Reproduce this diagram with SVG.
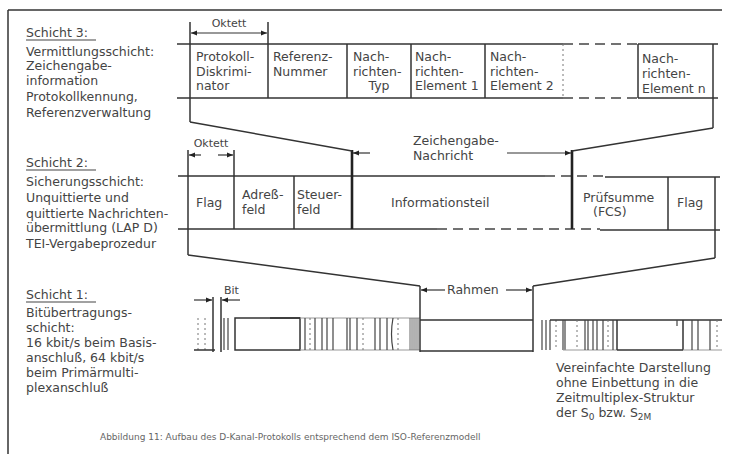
<svg xmlns="http://www.w3.org/2000/svg" width="730" height="454" viewBox="0 0 730 454">
<defs>
<marker id="ah" viewBox="0 0 10 10" refX="10" refY="5" markerWidth="6" markerHeight="5" orient="auto-start-reverse"><path d="M0,1 L10,5 L0,9 z" fill="#222"/></marker>
</defs>
<style>
text{font-family:"DejaVu Sans","Liberation Sans",sans-serif;font-size:12.5px;fill:#444}
.sm{font-size:11px}
.cap{font-size:9px;fill:#666}
.ln{stroke:#333;stroke-width:1.5;fill:none}
.thk{stroke:#222;stroke-width:2.6;fill:none}
.th{stroke:#444;stroke-width:1.2;fill:none}
.lt{stroke:#999;stroke-width:1;fill:none}
.dot{stroke:#777;stroke-width:1;stroke-dasharray:2 3;fill:none}
.dash{stroke:#444;stroke-width:1.5;stroke-dasharray:10 6;fill:none}
.dim{stroke:#333;stroke-width:1.2;fill:none}
.hat{stroke:#666;stroke-width:1;fill:none}
</style>
<rect width="730" height="454" fill="#fff"/>
<g id="frame">
<line class="ln" x1="8" y1="10" x2="722" y2="10"/>
<line class="ln" x1="8" y1="10" x2="8" y2="454"/>
</g>

<g id="layer3-label">
<text x="26" y="37">Schicht 3:</text>
<line class="th" x1="26" y1="40" x2="96" y2="40"/>
<text x="26" y="56">Vermittlungsschicht:</text>
<text x="26" y="70">Zeichengabe-</text>
<text x="26" y="85">information</text>
<text x="26" y="101">Protokollkennung,</text>
<text x="26" y="117">Referenzverwaltung</text>
</g>

<g id="layer3-frame">
<line class="ln" x1="177" y1="44" x2="563" y2="44"/>
<line class="dash" x1="563" y1="44" x2="638" y2="44"/>
<line class="ln" x1="638" y1="44" x2="718" y2="44"/>
<line class="ln" x1="177" y1="98" x2="563" y2="98"/>
<line class="dash" x1="563" y1="98" x2="638" y2="98"/>
<line class="ln" x1="638" y1="98" x2="718" y2="98"/>
<line class="ln" x1="190" y1="22" x2="190" y2="122"/>
<line class="ln" x1="268" y1="22" x2="268" y2="98"/>
<line class="ln" x1="347" y1="44" x2="347" y2="98"/>
<line class="ln" x1="411" y1="44" x2="411" y2="98"/>
<line class="ln" x1="485" y1="44" x2="485" y2="98"/>
<line class="dot" x1="563" y1="44" x2="563" y2="98"/>
<line class="ln" x1="638" y1="44" x2="638" y2="98"/>
<line class="ln" x1="713" y1="44" x2="713" y2="128"/>
</g>
<g id="f-protokoll"><text x="196" y="61">Protokoll-</text><text x="196" y="76">Diskrimi-</text><text x="196" y="90">nator</text></g>
<g id="f-referenz"><text x="273" y="61">Referenz-</text><text x="273" y="76">Nummer</text></g>
<g id="f-typ"><text x="353" y="61">Nach-</text><text x="353" y="76">richten-</text><text x="379" y="90" text-anchor="middle">Typ</text></g>
<g id="f-el1"><text x="415" y="61">Nach-</text><text x="415" y="76">richten-</text><text x="415" y="90">Element 1</text></g>
<g id="f-el2"><text x="490" y="61">Nach-</text><text x="490" y="76">richten-</text><text x="490" y="90">Element 2</text></g>
<g id="f-eln"><text x="642" y="63">Nach-</text><text x="642" y="78">richten-</text><text x="642" y="93">Element n</text></g>

<g id="layer2-label">
<text x="26" y="167">Schicht 2:</text>
<line class="th" x1="26" y1="170" x2="96" y2="170"/>
<text x="26" y="186">Sicherungsschicht:</text>
<text x="26" y="202">Unquittierte und</text>
<text x="26" y="218">quittierte Nachrichten-</text>
<text x="26" y="232">übermittlung (LAP D)</text>
<text x="26" y="248">TEI-Vergabeprozedur</text>
</g>

<g id="layer2-frame">
<line class="ln" x1="178" y1="176" x2="545" y2="176"/>
<line class="dash" x1="545" y1="176" x2="605" y2="176"/>
<line class="ln" x1="605" y1="177" x2="720" y2="177"/>
<line class="ln" x1="178" y1="229" x2="437" y2="229"/>
<line class="dash" x1="437" y1="229" x2="600" y2="229"/>
<line class="ln" x1="600" y1="230" x2="720" y2="230"/>
<line class="ln" x1="188" y1="150" x2="188" y2="255"/>
<line class="ln" x1="234" y1="150" x2="234" y2="229"/>
<line class="ln" x1="294" y1="176" x2="294" y2="229"/>
<line class="thk" x1="352" y1="150" x2="352" y2="229"/>
<line class="thk" x1="572" y1="150" x2="572" y2="229"/>
<line class="ln" x1="668" y1="177" x2="668" y2="230"/>
<line class="ln" x1="715" y1="177" x2="715" y2="258"/>
</g>
<g id="f-flag1"><text x="196" y="207">Flag</text></g>
<g id="f-adress"><text x="242" y="199">Adreß-</text><text x="242" y="214">feld</text></g>
<g id="f-steuer"><text x="297" y="199">Steuer-</text><text x="297" y="214">feld</text></g>
<g id="f-info"><text x="391" y="207">Informationsteil</text></g>
<g id="f-fcs"><text x="583" y="202">Prüfsumme</text><text x="593" y="216">(FCS)</text></g>
<g id="f-flag2"><text x="677" y="207">Flag</text></g>

<g id="layer1-label">
<text x="26" y="299">Schicht 1:</text>
<line class="th" x1="26" y1="302" x2="96" y2="302"/>
<text x="26" y="317">Bitübertragungs-</text>
<text x="26" y="332">schicht:</text>
<text x="26" y="347">16 kbit/s beim Basis-</text>
<text x="26" y="362">anschluß, 64 kbit/s</text>
<text x="26" y="377">beim Primärmulti-</text>
<text x="26" y="392">plexanschluß</text>
</g>

<g id="bitstream">
<line class="dot" x1="198" y1="318" x2="198" y2="350"/>
<line class="dot" x1="205" y1="318" x2="205" y2="350"/>
<line class="ln" x1="213" y1="297" x2="213" y2="352"/>
<line class="ln" x1="221" y1="297" x2="221" y2="352"/>
<line class="th" x1="224" y1="318" x2="224" y2="350"/>
<line class="th" x1="228" y1="318" x2="228" y2="350"/>
<line class="ln" x1="194" y1="350" x2="215" y2="350"/>
<rect class="ln" x="235" y="318" width="65" height="32"/>
<line class="ln" x1="270" y1="318" x2="300" y2="318" stroke-width="2.4"/>
<line class="lt" x1="300" y1="318" x2="420" y2="318"/>
<line class="lt" x1="300" y1="350" x2="420" y2="350"/>
<line class="th" x1="305" y1="318" x2="305" y2="350"/>
<line class="dot" x1="310" y1="318" x2="310" y2="350"/>
<line class="th" x1="315" y1="318" x2="315" y2="350"/>
<line class="th" x1="322" y1="318" x2="322" y2="350"/>
<line class="th" x1="327" y1="318" x2="327" y2="350"/>
<line class="th" x1="333" y1="318" x2="333" y2="350"/>
<line class="th" x1="347" y1="318" x2="347" y2="350"/>
<line class="th" x1="350" y1="318" x2="350" y2="350"/>
<line class="th" x1="357" y1="318" x2="357" y2="350"/>
<line class="dot" x1="363" y1="318" x2="363" y2="350"/>
<line class="th" x1="375" y1="318" x2="375" y2="350"/>
<line class="th" x1="380" y1="318" x2="380" y2="350"/>
<line class="th" x1="387" y1="318" x2="387" y2="350"/>
<path class="th" d="M393,318 Q390,334 393,350"/>
<line class="dot" x1="398" y1="318" x2="398" y2="350"/>
<line class="hat" x1="410" y1="318" x2="410" y2="350"/>
<line class="hat" x1="412" y1="318" x2="412" y2="350"/>
<line class="hat" x1="414" y1="318" x2="414" y2="350"/>
<line class="hat" x1="416" y1="318" x2="416" y2="350"/>
<line class="hat" x1="418" y1="318" x2="418" y2="350"/>
<line class="ln" x1="420" y1="286" x2="420" y2="352"/>
<line class="ln" x1="420" y1="320" x2="533" y2="320"/>
<line class="ln" x1="420" y1="351" x2="533" y2="351"/>
<line class="ln" x1="533" y1="286" x2="533" y2="352"/>
<line class="th" x1="542" y1="320" x2="542" y2="350"/>
<line class="th" x1="546" y1="320" x2="546" y2="350"/>
<line class="th" x1="550" y1="320" x2="550" y2="350"/>
<line class="dot" x1="556" y1="320" x2="556" y2="350"/>
<line class="ln" x1="550" y1="320" x2="722" y2="320"/>
<line class="th" x1="563" y1="320" x2="563" y2="350"/>
<line class="th" x1="565" y1="320" x2="565" y2="350"/>
<line class="lt" x1="563" y1="350" x2="617" y2="350"/>
<line class="dot" x1="577" y1="320" x2="577" y2="350"/>
<line class="th" x1="585" y1="320" x2="585" y2="350"/>
<line class="th" x1="588" y1="320" x2="588" y2="350"/>
<line class="th" x1="593" y1="320" x2="593" y2="350"/>
<line class="th" x1="597" y1="320" x2="597" y2="350"/>
<line class="th" x1="603" y1="320" x2="603" y2="350"/>
<line class="dot" x1="608" y1="320" x2="608" y2="350"/>
<line class="th" x1="613" y1="320" x2="613" y2="350"/>
<line class="ln" x1="617" y1="320" x2="617" y2="350"/>
<line class="ln" x1="617" y1="350" x2="683" y2="350"/>
<line class="th" x1="677" y1="320" x2="677" y2="326"/>
<line class="ln" x1="683" y1="320" x2="683" y2="350"/>
<line class="lt" x1="683" y1="350" x2="722" y2="350"/>
<line class="th" x1="692" y1="320" x2="692" y2="350"/>
<line class="th" x1="698" y1="320" x2="698" y2="350"/>
<line class="th" x1="710" y1="320" x2="710" y2="350"/>
<line class="dot" x1="717" y1="320" x2="717" y2="350"/>
</g>

<g id="note">
<text x="556" y="372">Vereinfachte Darstellung</text>
<text x="556" y="387">ohne Einbettung in die</text>
<text x="556" y="402">Zeitmultiplex-Struktur</text>
<text x="556" y="417">der S<tspan font-size="9" dy="3">0</tspan><tspan dy="-3"> bzw. S</tspan><tspan font-size="9" dy="3">2M</tspan></text>
</g>

<g id="caption">
<text class="cap" x="100" y="440">Abbildung 11: Aufbau des D-Kanal-Protokolls entsprechend dem ISO-Referenzmodell</text>
</g>

<g id="connectors">
<line class="ln" x1="190" y1="122" x2="352" y2="151"/>
<line class="ln" x1="713" y1="128" x2="572" y2="151"/>
<line class="ln" x1="188" y1="255" x2="420" y2="286"/>
<line class="ln" x1="715" y1="258" x2="533" y2="286"/>
<line class="dim" x1="229" y1="33" x2="191" y2="33" marker-end="url(#ah)"/>
<line class="dim" x1="229" y1="33" x2="267" y2="33" marker-end="url(#ah)"/>
<text class="sm" x="229" y="27" text-anchor="middle">Oktett</text>
<line class="dim" x1="201" y1="155" x2="189" y2="155" marker-end="url(#ah)"/>
<line class="dim" x1="218" y1="155" x2="233" y2="155" marker-end="url(#ah)"/>
<text class="sm" x="211" y="147" text-anchor="middle">Oktett</text>
<line class="dim" x1="370" y1="153" x2="353" y2="153" marker-end="url(#ah)"/>
<line class="dim" x1="507" y1="153" x2="571" y2="153" marker-end="url(#ah)"/>
<text x="413" y="145">Zeichengabe-</text>
<text x="413" y="160">Nachricht</text>
<line class="dim" x1="194" y1="300" x2="212" y2="300" marker-end="url(#ah)"/>
<line class="dim" x1="240" y1="300" x2="222" y2="300" marker-end="url(#ah)"/>
<text class="sm" x="224" y="294">Bit</text>
<line class="dim" x1="445" y1="290" x2="421" y2="290" marker-end="url(#ah)"/>
<line class="dim" x1="506" y1="290" x2="532" y2="290" marker-end="url(#ah)"/>
<text x="447" y="294">Rahmen</text>
</g>
</svg>
